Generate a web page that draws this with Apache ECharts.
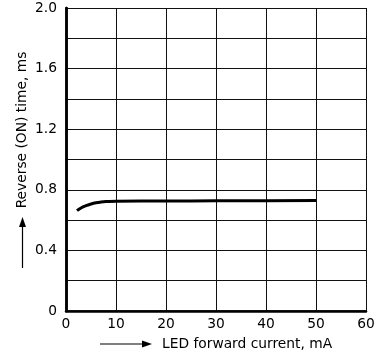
<!DOCTYPE html>
<html><head><meta charset="utf-8">
<script src="https://cdn.jsdelivr.net/npm/echarts@6/dist/echarts.min.js"></script>
<style>html,body{margin:0;padding:0;background:#fff}#c{width:384px;height:356px}</style>
</head><body><div id="c"></div>
<script>
const currentMA = [2.2, 3, 4, 5, 6, 7, 8, 10, 20, 30, 40, 50];
const timeMs = [0.662, 0.68, 0.695, 0.706, 0.714, 0.719, 0.722, 0.725, 0.726, 0.727, 0.728, 0.729];
const xName = 'LED forward current, mA';
const yName = 'Reverse (ON) time, ms';
const FONT = '"DejaVu Sans", Verdana, sans-serif';
const FS = 13.8;

const chart = echarts.init(document.getElementById('c'));
const gridLine = {show: true, lineStyle: {color: '#111', width: 1}};
chart.setOption({
  animation: false,
  grid: {left: 66, top: 8, right: 18, bottom: 45},
  xAxis: [{
    type: 'value', min: 0, max: 60, interval: 10,
    axisLine: {show: true, onZero: false, lineStyle: {color: '#000', width: 2.5}},
    axisTick: {show: false},
    splitLine: gridLine,
    axisLabel: {color: '#000', fontSize: FS, fontFamily: FONT, margin: 6}
  }, {
    type: 'value', min: 0, max: 60, interval: 10, position: 'top',
    axisLine: {show: true, lineStyle: {color: '#000', width: 1.5}},
    axisTick: {show: false}, axisLabel: {show: false}, splitLine: {show: false}
  }],
  yAxis: [{
    type: 'value', min: 0, max: 2.0, interval: 0.2,
    axisLine: {show: true, onZero: false, lineStyle: {color: '#000', width: 2.5}},
    axisTick: {show: false},
    splitLine: gridLine,
    axisLabel: {
      color: '#000', fontSize: FS, fontFamily: FONT, margin: 9,
      formatter: function (v) {
        const k = Math.round(v / 0.2);
        if (k % 2 !== 0) return '';
        return k === 0 ? '0' : (k * 0.2).toFixed(1);
      }
    }
  }, {
    type: 'value', min: 0, max: 2.0, interval: 0.2, position: 'right',
    axisLine: {show: true, lineStyle: {color: '#000', width: 2.5}},
    axisTick: {show: false}, axisLabel: {show: false}, splitLine: {show: false}
  }],
  series: [{
    type: 'line', smooth: true, symbol: 'none',
    data: currentMA.map((x, i) => [x, timeMs[i]]),
    lineStyle: {color: '#000', width: 3}
  }],
  graphic: [
    {type: 'text', x: 162, y: 344,
     style: {text: xName, fill: '#000', font: FS + 'px ' + FONT, verticalAlign: 'middle'}},
    {type: 'line', shape: {x1: 100, y1: 344, x2: 144, y2: 344}, style: {stroke: '#000', lineWidth: 1.2}},
    {type: 'polygon', shape: {points: [[152, 344], [142, 340.5], [142, 347.5]]}, style: {fill: '#000'}},
    {type: 'text', x: 22, y: 130, rotation: Math.PI / 2,
     style: {text: yName, fill: '#000', font: FS + 'px ' + FONT, align: 'center', verticalAlign: 'middle'}},
    {type: 'line', shape: {x1: 22.5, y1: 268, x2: 22.5, y2: 225}, style: {stroke: '#000', lineWidth: 1.2}},
    {type: 'polygon', shape: {points: [[22.5, 217], [19, 227], [26, 227]]}, style: {fill: '#000'}}
  ]
});
</script></body></html>
